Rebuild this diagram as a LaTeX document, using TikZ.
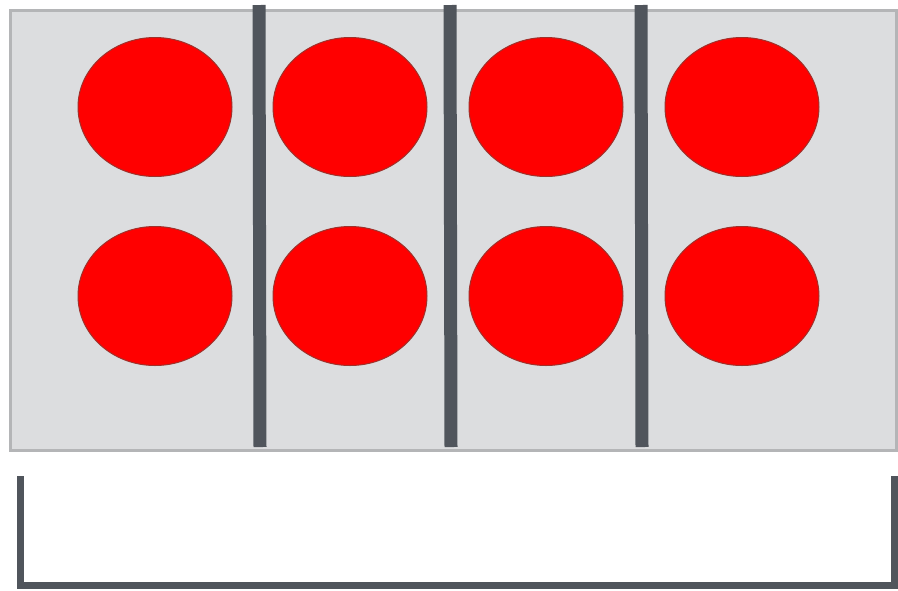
\documentclass[tikz,border=0pt]{standalone}
\usetikzlibrary{shapes.geometric}
\definecolor{panel}{HTML}{DCDDDF}
\definecolor{panelborder}{HTML}{B4B5B7}
\definecolor{divider}{HTML}{50555C}
\definecolor{dotred}{HTML}{FF0000}
\definecolor{dotedge}{HTML}{A0302A}
\tikzset{
  dot/.style={ellipse, fill=dotred, draw=dotedge, line width=1pt, minimum width=154pt, minimum height=139pt, inner sep=0pt},
  divline/.style={draw=divider, line width=13pt},
  bracketline/.style={draw=divider, line width=7pt}
}
\begin{document}
\begin{tikzpicture}[x=1pt,y=-1pt]
\useasboundingbox (0,0) rectangle (898,590);
\fill[white] (0,0) rectangle (898,590);
\draw[fill=panel, draw=panelborder, line width=3pt] (10,10) rectangle (896,450);
% dividers
\draw[divline] (259,5) -- (260,447);
\draw[divline] (450,5) -- (451,447);
\draw[divline] (641,5) -- (642,447);
% dots
\node[dot] (a1) at (155,107) {};
\node[dot] (a2) at (350,107) {};
\node[dot] (a3) at (546,107) {};
\node[dot] (a4) at (742,107) {};
\node[dot] (b1) at (155,296) {};
\node[dot] (b2) at (350,296) {};
\node[dot] (b3) at (546,296) {};
\node[dot] (b4) at (742,296) {};
% bracket
\draw[bracketline] (20,476) -- (20,585) -- (894,585) -- (894,476);
\end{tikzpicture}
\end{document}
